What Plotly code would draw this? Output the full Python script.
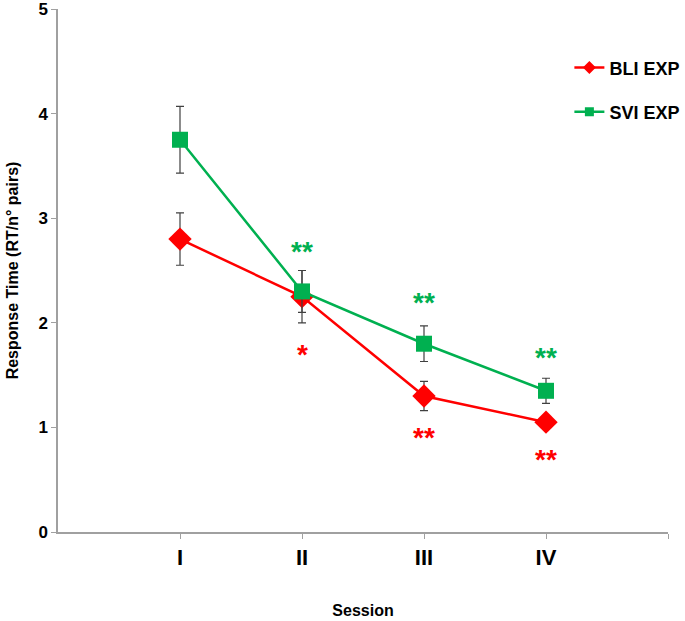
import plotly.graph_objects as go

sessions = ["I", "II", "III", "IV"]
x_pos = [1, 2, 3, 4]
bli_mean = [2.80, 2.25, 1.30, 1.05]
bli_err = [0.25, 0.25, 0.14, 0.06]
svi_mean = [3.75, 2.30, 1.80, 1.35]
svi_err = [0.32, 0.20, 0.17, 0.12]

# significance marks: (session index, label, y position)
bli_sig = [(2, "*", 1.70), (3, "**", 0.90), (4, "**", 0.69)]
svi_sig = [(2, "**", 2.68), (3, "**", 2.19), (4, "**", 1.67)]

RED = "#ff0000"
GREEN = "#00b050"
FONT = "Arial, Liberation Sans, sans-serif"

fig = go.Figure()
fig.add_trace(go.Scatter(
    x=x_pos, y=bli_mean, name="BLI EXP", mode="lines+markers",
    line=dict(color=RED, width=2.5),
    marker=dict(symbol="diamond", size=18, color=RED),
    error_y=dict(type="data", array=bli_err, color="#404040", thickness=1.2, width=4),
    showlegend=False,
))
fig.add_trace(go.Scatter(
    x=x_pos, y=svi_mean, name="SVI EXP", mode="lines+markers",
    line=dict(color=GREEN, width=2.5),
    marker=dict(symbol="square", size=16, color=GREEN),
    error_y=dict(type="data", array=svi_err, color="#404040", thickness=1.2, width=4),
    showlegend=False,
))
# legend entries (small markers as in the reference legend)
fig.add_trace(go.Scatter(
    x=[None], y=[None], name="BLI EXP", mode="lines+markers",
    line=dict(color=RED, width=2.5),
    marker=dict(symbol="diamond", size=10, color=RED), legendgroup="a",
))
fig.add_trace(go.Scatter(
    x=[None], y=[None], name="SVI EXP", mode="lines+markers",
    line=dict(color=GREEN, width=2.5),
    marker=dict(symbol="square", size=9, color=GREEN), legendgroup="b",
))

for i, lab, yv in bli_sig:
    fig.add_annotation(x=i, y=yv, text="<b>" + lab + "</b>", showarrow=False,
                       font=dict(family=FONT, size=28, color=RED))
for i, lab, yv in svi_sig:
    fig.add_annotation(x=i, y=yv, text="<b>" + lab + "</b>", showarrow=False,
                       font=dict(family=FONT, size=28, color=GREEN))

fig.update_layout(
    width=685, height=621,
    margin=dict(l=58, r=17, t=9, b=89, autoexpand=False),
    plot_bgcolor="white", paper_bgcolor="white",
    font=dict(family=FONT, color="black"),
    showlegend=True,
    legend=dict(x=1.0285, y=0.923, xanchor="right", yanchor="top",
                font=dict(family=FONT, size=18, color="black", weight="bold"),
                tracegroupgap=18, bgcolor="rgba(0,0,0,0)", itemwidth=30),
    xaxis=dict(range=[0, 5], tickvals=[1, 2, 3, 4, 5], ticktext=sessions + [""],
               showline=True, linecolor="#a0a0a0", linewidth=1.5,
               ticks="outside", ticklen=5, tickcolor="#a0a0a0",
               showgrid=False, zeroline=False, automargin=False,
               ticklabeloverflow="allow",
               tickfont=dict(family=FONT, size=22, weight="bold"),
               title=dict(text="<b>Session</b>", font=dict(family=FONT, size=16), standoff=36)),
    yaxis=dict(range=[0, 5], tickvals=[0, 1, 2, 3, 4, 5],
               showline=True, linecolor="#a0a0a0", linewidth=1.5,
               ticks="outside", ticklen=5, tickcolor="#a0a0a0",
               showgrid=False, zeroline=False, automargin=False,
               ticklabeloverflow="allow",
               tickfont=dict(family=FONT, size=17, weight="bold"),
               title=dict(text="<b>Response Time (RT/n° pairs)</b>", font=dict(family=FONT, size=16), standoff=16)),
)

fig.write_html("out.html", config={"displayModeBar": False},
               post_script="document.body.style.margin='0';")
